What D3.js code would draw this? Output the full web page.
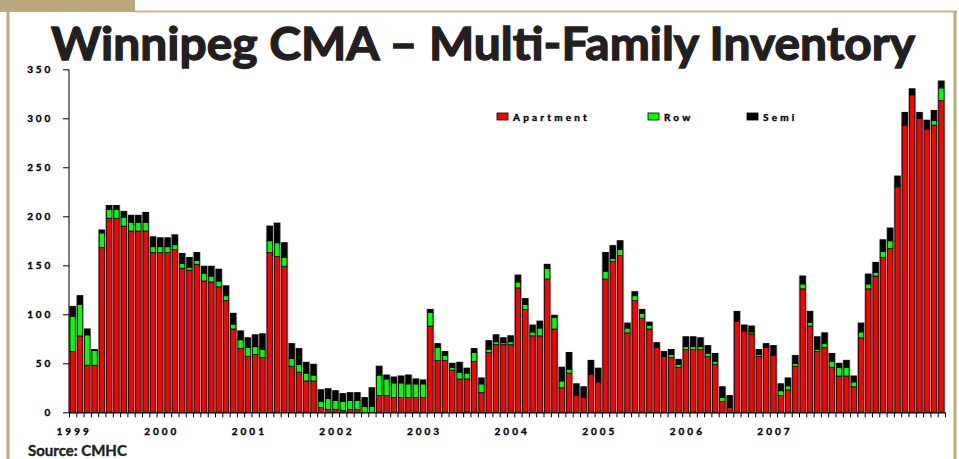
<!DOCTYPE html>
<html>
<head>
<meta charset="utf-8">
<script src="https://cdn.jsdelivr.net/npm/d3@7"></script>
<style>
  body { margin: 0; background: #fff; }
  svg { display: block; font-family: Lato, "Open Sans", sans-serif; }
</style>
</head>
<body>
<svg id="chart" width="959" height="459"></svg>
<script>
// monthly inventory, Jan 1999 - Dec 2008
const years = [1999, 2000, 2001, 2002, 2003, 2004, 2005, 2006, 2007, 2008];
const yearLabels = ["1999", "2000", "2001", "2002", "2003", "2004", "2005", "2006", "2007"];
const yTicks = [0, 50, 100, 150, 200, 250, 300, 350];

const apartment = [
  62, 78, 48, 48, 168, 198, 198, 190, 185, 185, 185, 163,
  163, 163, 166, 147, 145, 151, 134, 133, 128, 114, 85, 65,
  57, 59, 56, 163, 159, 149, 47, 41, 32, 32, 5, 3,
  3, 2, 3, 3, 0, 0, 17, 17, 15, 15, 15, 15,
  15, 88, 53, 53, 43, 34, 34, 52, 20, 61, 69, 69,
  69, 127, 105, 78, 78, 136, 85, 25, 40, 17, 15, 39,
  31, 136, 154, 160, 81, 114, 96, 85, 66, 57, 56, 46,
  64, 64, 64, 57, 49, 11, 5, 93, 83, 80, 57, 66,
  58, 17, 23, 47, 126, 88, 62, 66, 46, 37, 37, 26,
  76, 126, 139, 158, 167, 230, 293, 324, 300, 289, 293, 318
];
const row = [
  36, 32, 31, 15, 15, 9, 9, 9, 9, 9, 9, 6,
  6, 6, 5, 5, 3, 4, 8, 6, 6, 5, 5, 9,
  9, 8, 8, 12, 14, 9, 8, 8, 8, 6, 6, 11,
  9, 9, 9, 9, 6, 6, 21, 17, 15, 15, 14, 14,
  14, 14, 13, 5, 3, 7, 6, 9, 9, 3, 3, 2,
  3, 6, 5, 4, 8, 11, 12, 7, 4, 0, 0, 0,
  0, 8, 3, 6, 5, 5, 5, 4, 0, 0, 3, 3,
  3, 3, 3, 3, 3, 4, 0, 0, 0, 2, 2, 0,
  1, 5, 4, 3, 5, 4, 2, 4, 6, 9, 9, 5,
  6, 5, 4, 6, 8, 1, 1, 0, 0, 0, 5, 13
];
const semi = [
  10, 9, 6, 1, 3, 4, 4, 6, 7, 7, 10, 10,
  9, 9, 10, 10, 10, 8, 7, 10, 12, 10, 11, 9,
  10, 12, 16, 15, 20, 15, 15, 16, 11, 11, 12, 10,
  10, 8, 8, 8, 9, 19, 9, 4, 6, 7, 9, 5,
  4, 3, 4, 4, 4, 10, 5, 4, 6, 9, 7, 5,
  6, 7, 6, 7, 7, 4, 2, 14, 17, 12, 11, 14,
  14, 19, 13, 9, 5, 4, 4, 3, 5, 5, 5, 5,
  10, 10, 9, 8, 8, 11, 12, 10, 6, 6, 5, 4,
  9, 7, 8, 8, 8, 11, 13, 11, 8, 4, 7, 6,
  9, 10, 10, 12, 13, 10, 12, 6, 6, 9, 10, 7
];

const seriesNames = ["Apartment", "Row", "Semi"];
const seriesColors = ["#ff0000", "#00ff00", "#000000"];

const months = [];
years.forEach(yr => { for (let m = 1; m <= 12; m++) months.push(yr + "-" + m); });

const table = months.map((m, i) => ({
  month: m, Apartment: apartment[i], Row: row[i], Semi: semi[i]
}));

const svg = d3.select("#chart");
const tan = "#bba97b";

// frame
svg.append("rect").attr("x", 0).attr("y", 0).attr("width", 135).attr("height", 12).attr("fill", tan);
svg.append("rect").attr("x", 135).attr("y", 10.5).attr("width", 822).attr("height", 2).attr("fill", "#c6b78c");
svg.append("rect").attr("x", 6.5).attr("y", 12).attr("width", 3).attr("height", 447).attr("fill", tan);
svg.append("rect").attr("x", 953.5).attr("y", 11).attr("width", 3).attr("height", 448).attr("fill", tan);

// title (stroke thickens Lato Bold toward the heavier original face)
const title = svg.append("text")
  .attr("x", 483).attr("y", 60)
  .attr("text-anchor", "middle")
  .attr("font-size", 45).attr("font-weight", 700)
  .attr("fill", "#231f20")
  .attr("stroke", "#231f20").attr("stroke-width", 1.3)
  .text("Winnipeg CMA \u2013 Multi-Family Inventory");
title.attr("textLength", 864).attr("lengthAdjust", "spacingAndGlyphs");

// scales
const x = d3.scaleBand().domain(months).range([69, 945]).padding(0);
const xIdx = d3.scaleLinear().domain([0, months.length]).range([69, 945]);
const y = d3.scaleLinear().domain([0, 350]).range([412.3, 69.3]);

const stacked = d3.stack().keys(seriesNames)(table);
const bw = x.bandwidth();

// gray halo behind each bar
svg.append("g").selectAll("rect")
  .data(table)
  .join("rect")
  .attr("x", d => x(d.month) - 0.2)
  .attr("width", bw + 0.4)
  .attr("y", d => y(d.Apartment + d.Row + d.Semi) - 0.6)
  .attr("height", d => y(0) - y(d.Apartment + d.Row + d.Semi) + 0.6)
  .attr("fill", "#9a9a9a");

svg.append("g").selectAll("g")
  .data(stacked)
  .join("g")
  .attr("fill", (d, i) => seriesColors[i])
  .selectAll("rect")
  .data(d => d.filter(s => s[1] > s[0]))
  .join("rect")
  .attr("x", d => x(d.data.month) + 1)
  .attr("width", bw - 2)
  .attr("y", d => y(d[1]))
  .attr("height", d => y(d[0]) - y(d[1]))
  .attr("stroke", "#000")
  .attr("stroke-width", 0.8);

// y axis
const yAxis = svg.append("g")
  .attr("transform", "translate(69,0)")
  .call(d3.axisLeft(y).tickValues(yTicks).tickSize(6).tickPadding(10));
yAxis.select(".domain").attr("stroke", "#000").attr("d", "M0,412.3V69.3");
yAxis.selectAll("text")
  .attr("font-family", "Lato, sans-serif")
  .attr("font-size", 10).attr("font-weight", 700)
  .attr("letter-spacing", 2.8)
  .attr("fill", "#000")
  .attr("stroke", "#000").attr("stroke-width", 0.35);

// x axis: ticks at month boundaries
const xAxis = svg.append("g")
  .attr("transform", "translate(0,412.3)")
  .call(d3.axisBottom(xIdx).tickValues(d3.range(months.length + 1)).tickSize(5).tickFormat(""));
xAxis.select(".domain").attr("d", "M69,0.5H945").attr("stroke", "#000").attr("stroke-width", 1.2);

svg.append("g").selectAll("text")
  .data(yearLabels)
  .join("text")
  .attr("x", d => x(d + "-1") + bw / 2 + 1.5)
  .attr("y", 435)
  .attr("text-anchor", "middle")
  .attr("font-size", 10).attr("font-weight", 700)
  .attr("letter-spacing", 3)
  .attr("stroke", "#000").attr("stroke-width", 0.35)
  .text(d => d);

// legend
const legendX = [497, 648, 747];
const legend = svg.append("g").selectAll("g")
  .data(seriesNames)
  .join("g")
  .attr("transform", (d, i) => `translate(${legendX[i]},113)`);
legend.append("rect")
  .attr("width", 11).attr("height", 7)
  .attr("fill", (d, i) => seriesColors[i])
  .attr("stroke", "#000").attr("stroke-width", 0.8);
legend.append("text")
  .attr("x", 16).attr("y", 7.5)
  .attr("font-size", 10).attr("font-weight", 700)
  .attr("letter-spacing", 3.2)
  .attr("stroke", "#000").attr("stroke-width", 0.35)
  .text(d => d);

// source
svg.append("text")
  .attr("x", 28).attr("y", 456)
  .attr("font-size", 15).attr("font-weight", 700)
  .attr("fill", "#231f20")
  .attr("stroke", "#231f20").attr("stroke-width", 0.4)
  .text("Source: CMHC");
</script>
</body>
</html>
